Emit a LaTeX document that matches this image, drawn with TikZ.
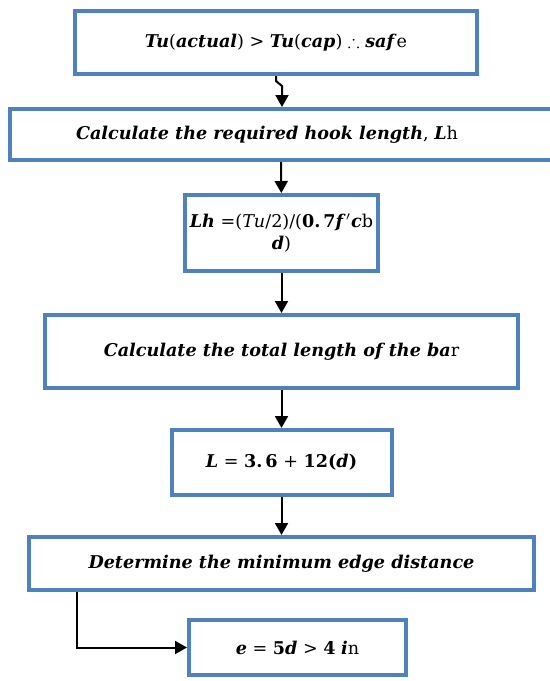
\documentclass[tikz,border=0pt]{standalone}
\usepackage{fontspec}
\setmainfont{DejaVu Serif}
\usepackage{amssymb}
\usetikzlibrary{arrows.meta}
\definecolor{boxblue}{HTML}{4F81BD}
\newcommand{\bi}[1]{\textbf{\textit{#1}}}

\begin{document}
\begin{tikzpicture}[x=0.5pt, y=-0.5pt,
  box/.style={draw=boxblue, line width=2pt, align=center, inner sep=1pt,
              font=\fontsize{8.8}{11}\selectfont},
  link/.style={line width=1pt},
  >={Triangle[width=6.5pt,length=6pt]}]
\useasboundingbox (0,0) rectangle (550,681);
\node[box, minimum width=201pt, minimum height=31.5pt] (safe) at (276,42.5)
  {\bi{Tu}(\bi{actual}) > \bi{Tu}(\bi{cap}) $\therefore$ \bi{saf}e};
\node[box, minimum width=271pt, minimum height=25.5pt] (hook) at (281,134.5)
  {\bi{Calculate the required hook length}, \bi{L}h\hspace*{14pt}};
\node[box, minimum width=96.5pt, minimum height=38pt] (lh) at (281.5,233)
  {\bi{Lh} =(\textit{Tu}/2)/(\textbf{0.\,7}\bi{f}$'$\bi{c}b\\ \bi{d})};
\node[box, minimum width=236.5pt, minimum height=36.5pt] (total) at (281.5,351.5)
  {\bi{Calculate the total length of the ba}r};
\node[box, minimum width=110pt, minimum height=32.5pt] (len) at (281.5,462.5)
  {\bi{L} = \textbf{3.\,6} + \textbf{12(}\bi{d}\textbf{)}};
\node[box, minimum width=252.5pt, minimum height=26.5pt] (edge) at (281.5,563.5)
  {\bi{Determine the minimum edge distance}};
\node[box, minimum width=108.5pt, minimum height=27.5pt] (emin) at (297.5,647.5)
  {\bi{e} = \textbf{5}\bi{d} > \textbf{4} \bi{i}n};
\coordinate (jog) at (282,86);
\draw[link, ->] (safe.south) -- ++(0,5) -- (jog) -- (jog |- hook.north);
\draw[link, ->] (hook) -- (lh);
\draw[link, ->] (lh) -- (total);
\draw[link, ->] (total) -- (len);
\draw[link, ->] (len) -- (edge);
\draw[link, ->] ([xshift=25pt]edge.south west) |- (emin);
\end{tikzpicture}
\end{document}
